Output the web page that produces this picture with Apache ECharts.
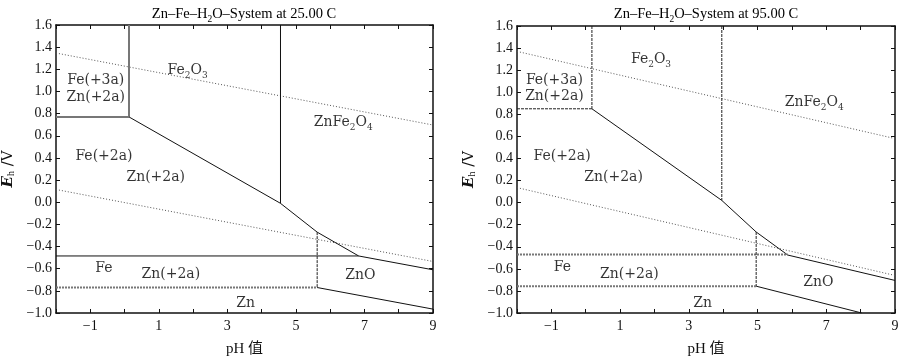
<!DOCTYPE html>
<html>
<head>
<meta charset="utf-8">
<script src="https://cdn.jsdelivr.net/npm/echarts@6/dist/echarts.min.js"></script>
<style>
  html, body { margin: 0; padding: 0; background: #fff; }
  #chart { width: 915px; height: 362px; }
</style>
</head>
<body>
<div id="chart"></div>
<script>
// 坐标轴范围
const phMin = -2, phMax = 9;
const eMin = -1.0, eMax = 1.6;
const titles = ["Zn–Fe–H2O–System at 25.00 C", "Zn–Fe–H2O–System at 95.00 C"];

// 25 C: 水的稳定线 (虚线)
const o2Line25 = [[-2, 1.347], [9, 0.697]];
const h2Line25 = [[-2, 0.115], [9, -0.535]];
// 25 C: 相界线
const fe3Vert25 = [[0.13, 1.6], [0.13, 0.77]];
const fe3Horiz25 = [[-2, 0.77], [0.13, 0.77]];
const fe2Diag25 = [[0.13, 0.77], [4.55, -0.01], [5.62, -0.27], [6.83, -0.485], [9, -0.61]];
const ferriteVert25 = [[4.55, 1.6], [4.55, -0.01]];
const feHoriz25 = [[-2, -0.485], [6.83, -0.485]];
const znoVert25 = [[5.62, -0.27], [5.62, -0.77]];
const znHoriz25 = [[-2, -0.77], [5.62, -0.77]];
const znDiag25 = [[5.62, -0.77], [9, -0.965]];
const labels25 = [
  [-0.84, 1.11, "Fe(+3a)"], [-0.84, 0.96, "Zn(+2a)"], [1.84, 1.2, "Fe2O3"],
  [6.38, 0.73, "ZnFe2O4"], [-0.6, 0.425, "Fe(+2a)"], [0.91, 0.235, "Zn(+2a)"],
  [-0.6, -0.59, "Fe"], [1.35, -0.64, "Zn(+2a)"], [6.88, -0.65, "ZnO"], [3.53, -0.9, "Zn"]
];

// 95 C
const o2Line95 = [[-2, 1.37], [9, 0.58]];
const h2Line95 = [[-2, 0.136], [9, -0.66]];
const fe3Vert95 = [[0.18, 1.6], [0.18, 0.85]];
const fe3Horiz95 = [[-2, 0.85], [0.18, 0.85]];
const fe2Diag95 = [[0.18, 0.85], [3.96, 0.02], [4.96, -0.266], [5.88, -0.475], [9, -0.705]];
const ferriteVert95 = [[3.96, 1.6], [3.96, 0.02]];
const feHoriz95 = [[-2, -0.47], [5.88, -0.47]];
const znoVert95 = [[4.96, -0.266], [4.96, -0.757]];
const znHoriz95 = [[-2, -0.757], [4.96, -0.757]];
const znDiag95 = [[4.96, -0.757], [8.03, -1.0]];
const labels95 = [
  [-0.91, 1.12, "Fe(+3a)"], [-0.91, 0.97, "Zn(+2a)"], [1.9, 1.31, "Fe2O3"],
  [6.65, 0.92, "ZnFe2O4"], [-0.69, 0.43, "Fe(+2a)"], [0.81, 0.24, "Zn(+2a)"],
  [-0.68, -0.58, "Fe"], [1.27, -0.64, "Zn(+2a)"], [6.77, -0.71, "ZnO"], [3.4, -0.9, "Zn"]
];

const serif = "'Liberation Serif', 'DejaVu Serif', 'Noto Sans CJK SC', serif";
const wideSerif = "'DejaVu Serif', 'Liberation Serif', serif";

// 化学式下标: 字母后的数字变成下标
const sub = (s) => s.replace(/([A-Za-z])(\d)/g, "$1\u0000$2\u0001")
  .split(/(\u0000\d\u0001)/)
  .filter((t) => t.length)
  .map((t) => t[0] === "\u0000" ? "{s|" + t[1] + "}" : "{a|" + t + "}")
  .join("");

const richText = (size, family) => ({
  a: { fontFamily: family, fontSize: size, fontWeight: "normal", color: "#000", lineHeight: size + 2, verticalAlign: "bottom" },
  s: { fontFamily: family, fontSize: size - 5, fontWeight: "normal", color: "#000", lineHeight: size + 2, verticalAlign: "bottom", padding: [0, 0, -3, 0] },
});

const minus = (s) => String(s).replace("-", "\u2212");

const grids = [
  { left: 55, top: 25, width: 378, height: 292 },
  { left: 517, top: 26, width: 378, height: 291 },
];

const axisLine = { show: true, onZero: false, lineStyle: { color: "#111", width: 1.5 } };
const axisTick = { show: true, inside: true, length: 4, lineStyle: { color: "#111" } };

const xAxes = [];
const yAxes = [];
grids.forEach((g, i) => {
  xAxes.push({
    type: "value", gridIndex: i, position: "bottom", min: phMin, max: phMax, interval: 1,
    axisLine, axisTick, splitLine: { show: false },
    axisLabel: {
      margin: 6, color: "#111", fontFamily: serif, fontSize: 14,
      formatter: (v) => (Math.round(v) % 2 !== 0 ? minus(v) : ""),
    },
    name: "pH 值", nameLocation: "middle", nameGap: 29,
    nameTextStyle: { fontFamily: serif, fontSize: 15, color: "#111" },
  });
  xAxes.push({
    type: "value", gridIndex: i, position: "top", min: phMin, max: phMax, interval: 1,
    axisLine, axisTick, axisLabel: { show: false }, splitLine: { show: false },
  });
  yAxes.push({
    type: "value", gridIndex: i, position: "left", min: eMin, max: eMax, interval: 0.2,
    axisLine, axisTick, splitLine: { show: false },
    axisLabel: {
      margin: 4, color: "#111", fontFamily: serif, fontSize: 14,
      formatter: (v) => minus(v.toFixed(1)),
    },
    name: "{i|E}{h|h}{a| /V}", nameLocation: "middle", nameGap: 40, nameRotate: 90,
    nameTextStyle: {
      rich: {
        i: { fontFamily: wideSerif, fontStyle: "italic", fontWeight: "bold", fontSize: 15, color: "#111" },
        h: { fontFamily: serif, fontSize: 10, color: "#111", padding: [0, 0, -5, 0] },
        a: { fontFamily: wideSerif, fontSize: 15, color: "#111" },
      },
    },
  });
  yAxes.push({
    type: "value", gridIndex: i, position: "right", min: eMin, max: eMax, interval: 0.2,
    axisLine, axisTick, axisLabel: { show: false }, splitLine: { show: false },
  });
});

// 线型
const solid = { color: "#111", width: 1 };
const grey = { color: "#777", width: 2 };
const dashGrey = { color: "#777", width: 2, type: [2, 1] };
const dashDark = { color: "#222", width: 1, type: [3, 1] };
const dotted = { color: "#555", width: 1, type: [1, 2] };

const lineSeries = (data, i, style) => ({
  type: "line", xAxisIndex: i * 2, yAxisIndex: i * 2, data,
  showSymbol: false, symbol: "none", lineStyle: style, silent: true,
});

const labelSeries = (data, i) => ({
  type: "scatter", xAxisIndex: i * 2, yAxisIndex: i * 2, data,
  symbolSize: 1, itemStyle: { color: "rgba(0,0,0,0)" }, silent: true,
  label: {
    show: true, position: "inside", color: "#000",
    formatter: (p) => sub(p.data[2]),
    rich: richText(14, wideSerif),
  },
});

const series = [
  lineSeries(o2Line25, 0, dotted),
  lineSeries(h2Line25, 0, dotted),
  lineSeries(fe3Vert25, 0, grey),
  lineSeries(fe3Horiz25, 0, grey),
  lineSeries(fe2Diag25, 0, solid),
  lineSeries(ferriteVert25, 0, solid),
  lineSeries(feHoriz25, 0, solid),
  lineSeries(znoVert25, 0, dashDark),
  lineSeries(znHoriz25, 0, dashGrey),
  lineSeries(znDiag25, 0, solid),
  labelSeries(labels25, 0),

  lineSeries(o2Line95, 1, dotted),
  lineSeries(h2Line95, 1, dotted),
  lineSeries(fe3Vert95, 1, dashDark),
  lineSeries(fe3Horiz95, 1, dashDark),
  lineSeries(fe2Diag95, 1, solid),
  lineSeries(ferriteVert95, 1, dashDark),
  lineSeries(feHoriz95, 1, dashGrey),
  lineSeries(znoVert95, 1, dashDark),
  lineSeries(znHoriz95, 1, dashGrey),
  lineSeries(znDiag95, 1, solid),
  labelSeries(labels95, 1),
];

const chart = echarts.init(document.getElementById("chart"));
chart.setOption({
  animation: false,
  backgroundColor: "#fff",
  title: titles.map((t, i) => ({
    text: sub(t),
    left: grids[i].left + grids[i].width / 2,
    top: 5,
    padding: 0,
    textAlign: "center",
    textStyle: { fontWeight: "normal", rich: richText(14.5, serif) },
  })),
  grid: grids,
  xAxis: xAxes,
  yAxis: yAxes,
  series,
});
</script>
</body>
</html>
